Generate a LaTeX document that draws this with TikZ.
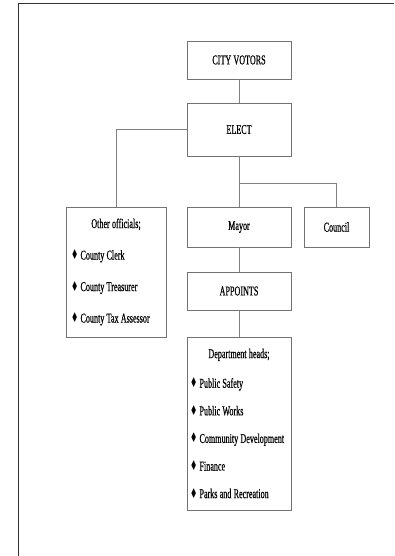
\documentclass[tikz,border=0pt]{standalone}
\usepackage{fontspec}
\setmainfont[FakeStretch=0.6, WordSpace=1.1, FakeBold=0.5]{Liberation Serif}
\newfontfamily\diafont[FakeStretch=0.6]{DejaVu Sans}
\usepackage{tikz}
\usetikzlibrary{calc}
\newcommand{\diam}{{\diafont ♦}\ }
\tikzstyle{unit} = [rectangle, draw=black!55, line width=0.9pt, minimum width=104pt, minimum height=38pt, inner sep=0pt, align=center, font=\fontsize{13.5}{15}\selectfont]
\tikzstyle{roster} = [rectangle, draw=black!55, line width=0.9pt, inner xsep=3pt, inner ysep=0pt, align=flush left, font=\fontsize{13.5}{15}\selectfont]
\tikzstyle{link} = [draw=black!50, line width=0.8pt]

\begin{document}
\begin{tikzpicture}[x=1pt, y=1pt, node distance=2cm]
	\useasboundingbox (0,0) rectangle (394,-556);
	\draw [black!80, line width=1.5pt] (18.5,-556) -- (18.5,-3.5) -- (394,-3.5);

	\node (votors) [unit] at (239,-60) {CITY VOTORS};
	\node (elect) [unit, below of=votors, node distance=69.5pt, minimum height=53pt] {ELECT};
	\node (mayor) [unit, below of=elect, node distance=97.5pt, minimum height=40pt] {Mayor};
	\node (council) [unit, right of=mayor, node distance=97.5pt, minimum width=65pt, minimum height=40pt] {Council};
	\node (appoints) [unit, below of=mayor, node distance=64pt] {APPOINTS};
	\node (others) [roster, left of=mayor, node distance=123pt, yshift=-45pt, text width=94pt, minimum height=130pt, font=\fontsize{13.5}{31.5}\selectfont] {%
		{\centering Other officials;\par}
		\hspace{2pt}\diam County Clerk\par
		\hspace{2pt}\diam County Treasurer\par
		\hspace{2pt}\diam County Tax Assessor};
	\node (heads) [roster, below of=appoints, node distance=132.5pt, text width=98pt, minimum height=173pt, font=\fontsize{13.5}{27.6}\selectfont] {%
		{\centering Department heads;\par}
		\vspace{2pt}\diam Public Safety\par
		\diam Public Works\par
		\diam Community Development\par
		\diam Finance\par
		\diam Parks and Recreation};
	\coordinate (split) at ($(elect.south)!0.53!(mayor.north)$);

	\draw [link] (votors) -- (elect);
	\draw [link] (elect.west) -| (others.north);
	\draw [link] (elect) -- (mayor);
	\draw [link] (split) -| (council.north);
	\draw [link] (mayor) -- (appoints);
	\draw [link] (appoints) -- (heads);
\end{tikzpicture}
\end{document}
